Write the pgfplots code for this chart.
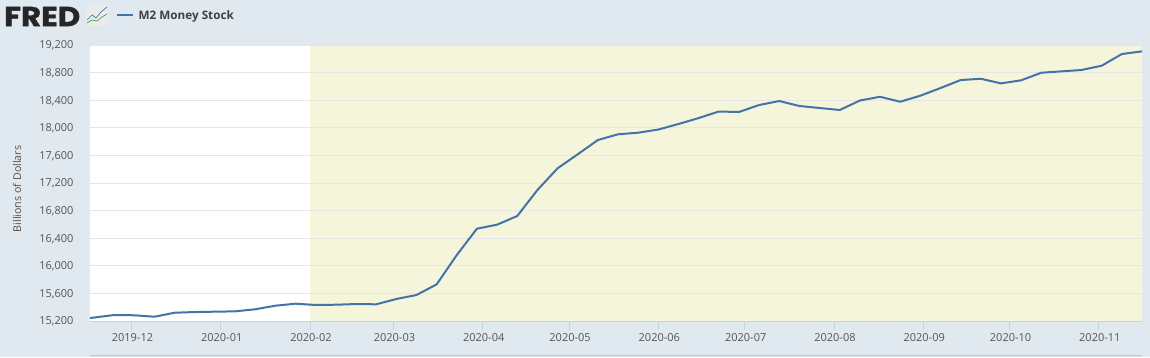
\documentclass[border=0pt]{standalone}
\usepackage{pgfplots}
\pgfplotsset{compat=1.18}
\usepackage{fontspec}
\setmainfont{Open Sans}
\newfontfamily\logofont[BoldFeatures={FakeBold=1.2}]{Poppins}
\definecolor{bgblue}{HTML}{E1E9F0}
\definecolor{lineblue}{HTML}{4572A7}
\definecolor{shade}{HTML}{F5F5DC}
\definecolor{gridc}{HTML}{E6E6E6}
\definecolor{axisc}{HTML}{C6D3E4}
\definecolor{tickc}{HTML}{555555}
\definecolor{labelc}{HTML}{5F4F40}
\begin{document}
\begin{tikzpicture}
\fill[bgblue] (0pt,0pt) rectangle (1150pt,357pt);
\fill[white] (90pt,36pt) rectangle (1142pt,312pt);
\draw[axisc!85!gray,line width=0.9pt] (90pt,1.5pt) -- (1142pt,1.5pt);
% header
\node[anchor=west,inner sep=0pt,xscale=1.12,font=\logofont\fontsize{27.5}{28}\selectfont\bfseries,text=black!85] at (4pt,340.5pt) {FRED};
\begin{scope}[shift={(86pt,331pt)}]
\fill[black!8] (0pt,0pt) rectangle (22pt,21pt);
\draw[lineblue,line width=0.7pt] (1pt,6pt) -- (6pt,11pt) -- (10pt,8pt) -- (15pt,14pt) -- (21pt,19pt);
\draw[green!50!black!70,line width=0.7pt] (1pt,3pt) -- (6pt,6pt) -- (11pt,5pt) -- (16pt,9pt) -- (21pt,12pt);
\end{scope}
\draw[lineblue,line width=2pt] (117pt,341.5pt) -- (133pt,341.5pt);
\node[anchor=west,inner sep=0pt,font=\fontsize{11.7}{12}\selectfont\bfseries,text=black!75] at (138.5pt,341pt) {M2 Money Stock};
% recession band, underneath the grid
\begin{axis}[
  at={(90pt,36pt)},anchor=south west,
  scale only axis,width=1052pt,height=276pt,
  xmin=-14.4,xmax=351,ymin=15200,ymax=19200,
  hide axis,
]
\addplot[fill=shade,draw=none] coordinates {(62,15200)(351,15200)(351,19200)(62,19200)};
\end{axis}
\begin{axis}[
  at={(90pt,36pt)},anchor=south west,
  scale only axis,width=1052pt,height=276pt,
  xmin=-14.4,xmax=351,ymin=15200,ymax=19200,
  axis line style={draw=none},
  ytick={15200,15600,16000,16400,16800,17200,17600,18000,18400,18800,19200},
  xtick={0,31,62,91,122,152,183,213,244,275,305,336},
  xticklabels={2019-12,2020-01,2020-02,2020-03,2020-04,2020-05,2020-06,2020-07,2020-08,2020-09,2020-10,2020-11},
  ymajorgrids,
  grid style={gridc,line width=0.9pt},
  /pgf/number format/assume math mode=true,
  /pgf/number format/1000 sep={,},
  scaled y ticks=false,
  ticklabel style={font=\fontsize{11}{11}\selectfont,text=tickc},
  x tick style={axisc,line width=0.9pt},
  y tick style={draw=none},
  major tick length=9pt,
  tick align=outside,
  xtick pos=bottom,
  ytick pos=left,
  yticklabel style={xshift=-4pt,yshift=-0.7pt},
  xticklabel style={yshift=0pt,xshift=1pt},
]
\addplot[lineblue,line width=2pt,line join=round,no markers] coordinates {
(-20,15215)(-13,15250)(-6,15287)(1,15283)(8,15262)(15,15320)(22,15330)(29,15335)(36,15340)(43,15370)(50,15422)(57,15451)
(64,15432)(71,15436)(78,15446)(85,15442)(92,15519)(99,15577)(106,15731)(113,16156)(120,16538)(127,16596)(134,16722)
(141,17098)(148,17413)(155,17616)(162,17823)(169,17906)(176,17929)(183,17975)(190,18055)(197,18141)(204,18236)
(211,18229)(218,18330)(225,18388)(232,18316)(239,18287)(246,18258)(253,18395)(260,18450)(267,18378)(274,18465)
(281,18576)(288,18692)(295,18711)(302,18644)(309,18688)(316,18798)(323,18818)(330,18838)(337,18900)(344,19069)(351,19108)};
\end{axis}
\draw[axisc,line width=0.9pt] (90pt,36pt) -- (1142pt,36pt);
\node[rotate=90,font=\fontsize{10.7}{11}\selectfont,text=labelc,inner sep=0pt] at (17pt,168pt) {Billions of Dollars};
\end{tikzpicture}
\end{document}
